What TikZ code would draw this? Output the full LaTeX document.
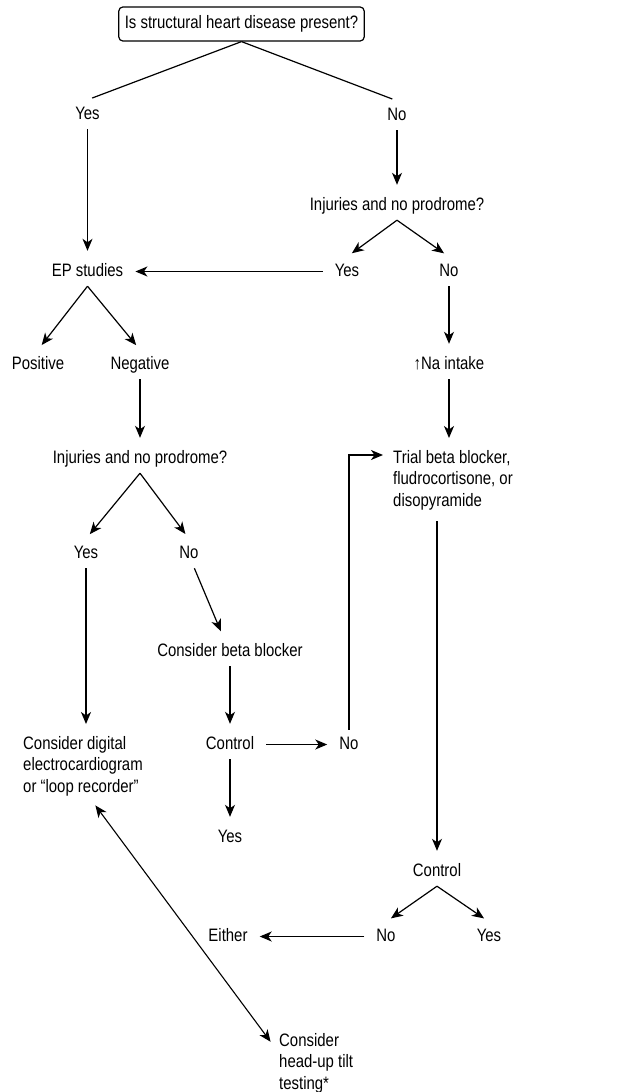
\documentclass[tikz,border=0pt]{standalone}
\usepackage{fontspec}
\setmainfont{Liberation Sans}[FakeStretch=0.83]
\usetikzlibrary{arrows.meta}

\begin{document}
\begin{tikzpicture}[x=1pt,y=-1pt,
    lbl/.style={font=\fontsize{18}{21.5}\selectfont,text height=13pt,text depth=4pt,inner xsep=6pt,inner ysep=6pt,anchor=base},
    blk/.style={font=\fontsize{18}{21.5}\selectfont,align=left,inner sep=6pt,anchor=north west},
    qbox/.style={lbl,anchor=center,draw,line width=1.2pt,rounded corners=4pt,minimum height=34pt},
    link/.style={line width=1.2pt,shorten >=5pt},
    arr/.style={line width=1.2pt,-{Stealth[length=12pt,width=10pt,inset=3.5pt]},shorten >=6pt},
    dbl/.style={line width=1.1pt,{Stealth[length=12pt,width=10pt,inset=3.5pt]}-{Stealth[length=12pt,width=10pt,inset=3.5pt]},shorten >=4pt,shorten <=4pt}]
    \useasboundingbox (0,0) rectangle (631,1092);
    \node[qbox] (start) at (241.5,24) {Is structural heart disease present?};
    \node[lbl] (yesA) at (87.5,119) {Yes};
    \node[lbl] (noA) at (397,120) {No};
    \node[lbl] (injA) at (397,210) {Injuries and no prodrome?};
    \node[lbl] (yesB) at (347,276) {Yes};
    \node[lbl] (noB) at (449,276) {No};
    \node[lbl] (ep) at (87.5,276) {EP studies};
    \node[lbl] (pos) at (38,369) {Positive};
    \node[lbl] (neg) at (140,369) {Negative};
    \node[lbl] (na) at (449,369) {↑Na intake};
    \node[lbl] (injB) at (140,463) {Injuries and no prodrome?};
    \node[lbl] (yesC) at (86,558) {Yes};
    \node[lbl] (noC) at (189,558) {No};
    \node[lbl] (cbb) at (230,656) {Consider beta blocker};
    \node[lbl] (ctrlA) at (230,749) {Control};
    \node[lbl] (noD) at (349,749) {No};
    \node[lbl] (yesD) at (230,842) {Yes};
    \node[blk] (trial) at (387,444) {Trial beta blocker,\\fludrocortisone, or\\disopyramide};
    \node[blk] (ecg) at (17,730) {Consider digital\\electrocardiogram\\or “loop recorder”};
    \node[lbl] (ctrlB) at (437,876) {Control};
    \node[lbl] (noE) at (386,941) {No};
    \node[lbl] (yesE) at (489,941) {Yes};
    \node[lbl] (either) at (228,941) {Either};
    \node[blk] (tilt) at (273,1027) {Consider\\head-up tilt\\testing*};

    \draw[link] (start.south) -- (yesA.north);
    \draw[link] (start.south) -- (noA.north);
    \foreach \a/\b in {yesA/ep,noA/injA,noB/na,neg/injB,cbb/ctrlA,ctrlA/yesD}{\draw[arr] (\a) -- (\b);}
    \foreach \q/\a in {injA/yesB,injA/noB,ep/pos,ep/neg,injB/yesC,injB/noC,ctrlB/noE,ctrlB/yesE}{\draw[arr] (\q.south) -- (\a.north);}
    \draw[arr] (noC.-70) -- (cbb.115);
    \draw[arr] (yesC) -- (yesC |- ecg.north);
    \draw[arr] (na) -- (na |- trial.north);
    \draw[arr,shorten <=5pt] (trial.south -| ctrlB) -- (ctrlB);
    \foreach \a/\b in {yesB/ep,ctrlA/noD,noE/either}{\draw[arr,shorten <=6pt] (\a) -- (\b);}
    \draw[arr,shorten >=4pt] (noD.north) |- ([yshift=-11pt]trial.north west);
    \draw[dbl] ([xshift=10pt]ecg.south) -- ([yshift=-18pt]tilt.north west);
  \end{tikzpicture}
\end{document}
